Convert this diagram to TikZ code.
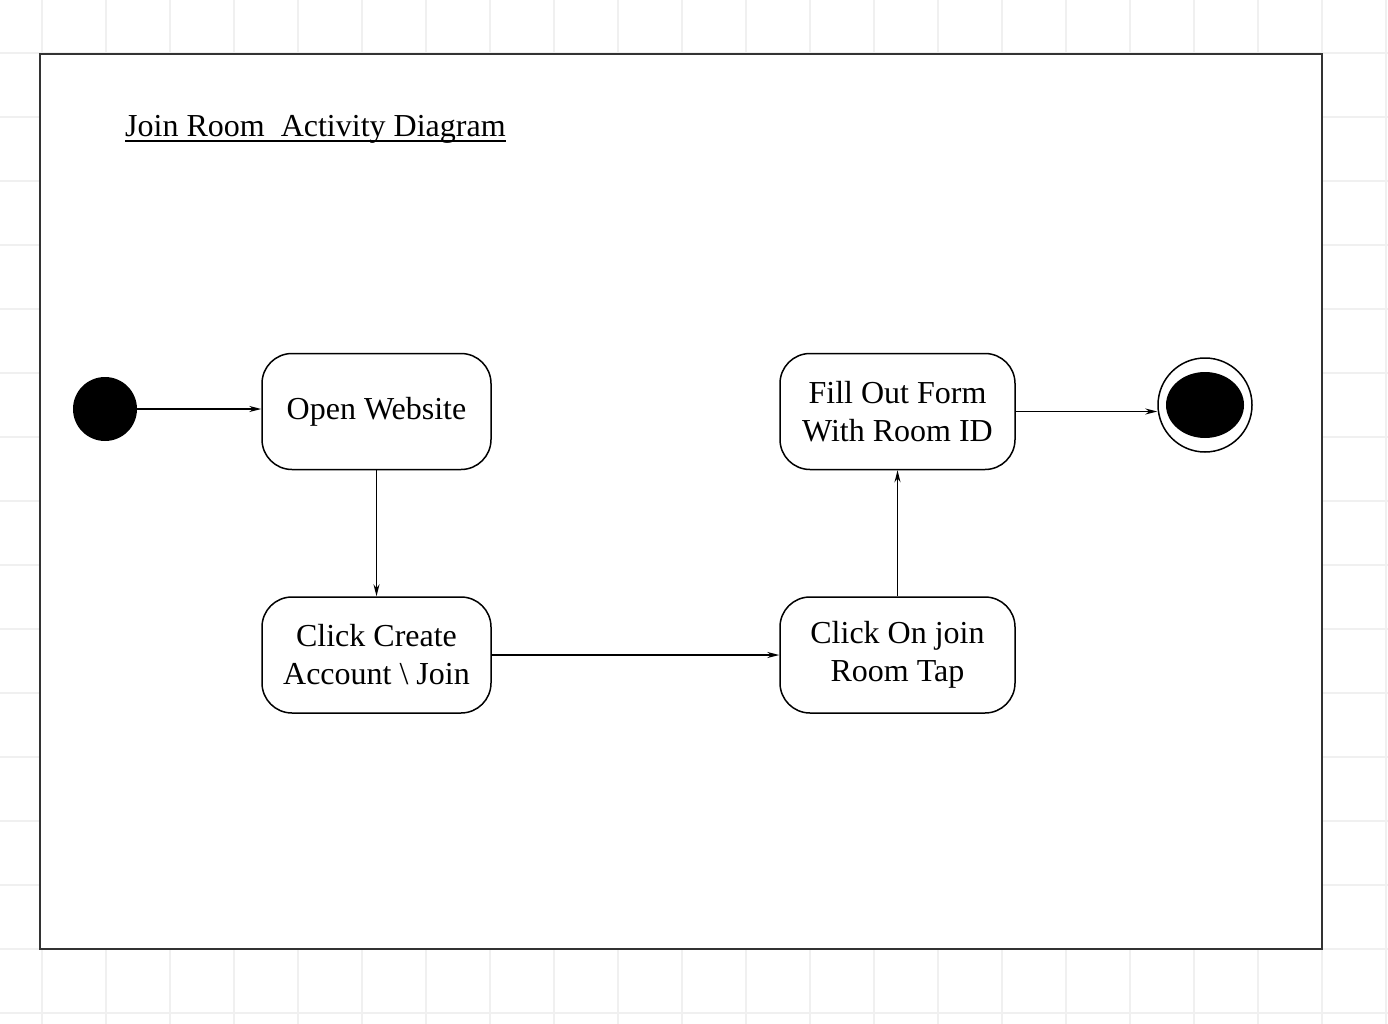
\documentclass[tikz,border=0pt]{standalone}
\usepackage{fontspec}
\setmainfont{Liberation Serif}
\usetikzlibrary{arrows.meta, positioning}
\definecolor{jrGrid}{HTML}{F0F0F0}
\definecolor{jrFrame}{HTML}{333333}

\begin{document}
\begin{tikzpicture}[x=1pt, y=-1pt,
  state/.style={draw, rounded corners=30pt, line width=1.5pt, align=center,
                minimum width=229pt, minimum height=116pt, inner sep=2pt,
                font=\fontsize{32}{38}\selectfont},
  wide/.style={minimum width=235pt},
  flow/.style={line width=1.5pt, -{Stealth[length=12pt, width=6pt]}}]
  \useasboundingbox (0,0) rectangle (1388,1024);
  % background grid
  \foreach \gx in {0,...,21}
    \draw[jrGrid, line width=2pt] (42+64*\gx,0) -- (42+64*\gx,1024);
  \foreach \gy in {0,...,15}
    \draw[jrGrid, line width=2pt] (0,53+64*\gy) -- (1388,53+64*\gy);
  % frame
  \draw[jrFrame, fill=white, line width=2pt] (40,54) rectangle (1322,949);
  \node[anchor=base west, inner sep=0pt, font=\fontsize{32}{38}\selectfont]
    (title) at (125,137) {Join Room~ Activity Diagram};
  \draw[line width=1.5pt] ([yshift=-4pt]title.base west) -- ([yshift=-4pt]title.base east);

  \node[circle, fill=black, minimum size=64pt, inner sep=0pt] (start) at (105,409) {};
  \node[state] (open)   at (376.5,411.5) {Open Website};
  \node[state] (create) at (376.5,655)   {Click Create\\Account \textbackslash{} Join};
  \node[state, wide] (tab)  at (897.5,655)   {Click On join\\Room Tap};
  \node[state, wide] (form) at (897.5,411.5) {Fill Out Form\\With Room ID};
  \node[circle, draw, line width=1.5pt, minimum size=94pt, inner sep=0pt] (stop) at (1205,405) {};
  \fill (stop.center) ellipse [x radius=39, y radius=33];

  \draw[flow] (start.east) -- (start.east -| open.west);
  \draw[flow] (open) -- (create);
  \draw[flow] (create) -- (tab);
  \draw[flow] (tab) -- (form);
  \draw[flow] (form.east) -- (form.east -| stop.west);
\end{tikzpicture}
\end{document}
